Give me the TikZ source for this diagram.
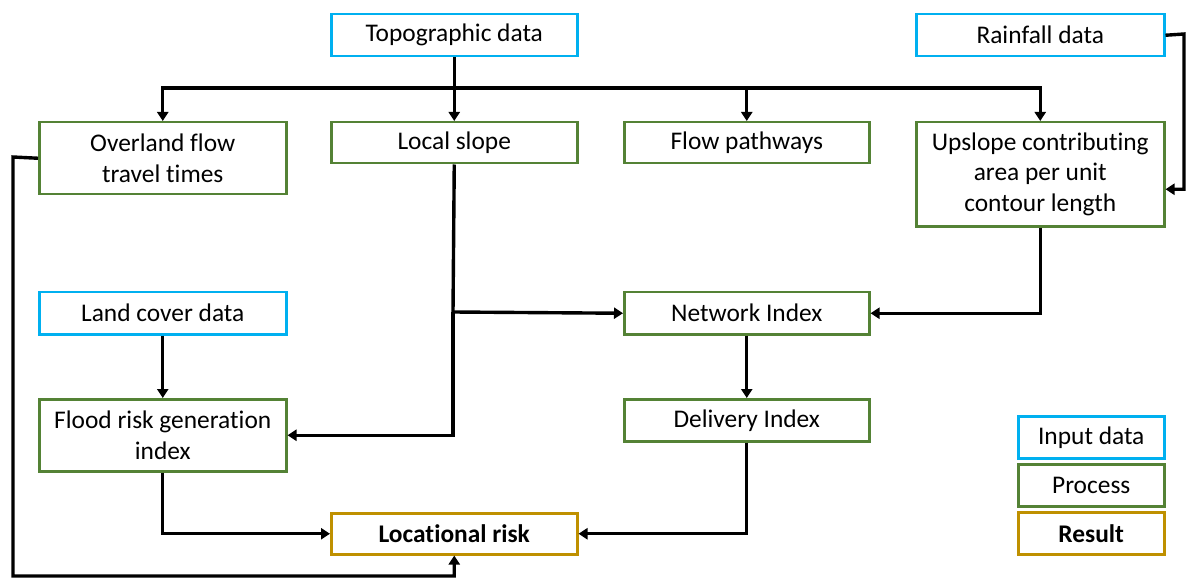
\documentclass[tikz,border=0pt]{standalone}
\usepackage{fontspec}
\setmainfont{Carlito}[Ligatures={NoCommon}]
\usetikzlibrary{arrows.meta}
\definecolor{inblue}{HTML}{00B0F0}
\definecolor{procgreen}{HTML}{548235}
\definecolor{resgold}{HTML}{BF9000}
\tikzset{
  box/.style={draw, line width=2.5bp, fill=white, anchor=north west, inner sep=0pt,
    align=center, font=\fontsize{25.5}{31}\selectfont},
  inputbox/.style={box, draw=inblue},
  procbox/.style={box, draw=procgreen},
  resbox/.style={box, draw=resgold, font=\fontsize{25.5}{31}\selectfont\bfseries},
  arr/.style={line width=3.4bp, -{Triangle[length=9bp,width=11bp]}},
  link/.style={line width=3.4bp},
}
\begin{document}
\begin{tikzpicture}[x=1bp, y=-1bp]
\useasboundingbox[fill=white] (0,0) rectangle (1187,579);

% input data
\node[inputbox, minimum width=246bp, minimum height=42bp] (topo) at (330,13) {Topographic data};
\node[inputbox, minimum width=248bp, minimum height=42bp] (rain) at (915,13) {Rainfall data};
\node[inputbox, minimum width=247bp, minimum height=42bp] (land) at (38,291) {Land cover data};

% processes
\node[procbox, minimum width=247bp, minimum height=72bp] (over) at (38,121) {Overland flow\\travel times};
\node[procbox, minimum width=246bp, minimum height=41bp] (slope) at (330,121) {Local slope};
\node[procbox, minimum width=245bp, minimum height=41bp] (flow) at (623,121) {Flow pathways};
\node[procbox, minimum width=248bp, minimum height=104bp] (up) at (915,121) {Upslope contributing\\area per unit\\contour length};
\node[procbox, minimum width=245bp, minimum height=42bp] (net) at (623,291) {Network Index};
\node[procbox, minimum width=247bp, minimum height=72bp] (flood) at (38,398) {Flood risk generation\\index};
\node[procbox, minimum width=245bp, minimum height=42bp] (deliv) at (623,398) {Delivery Index};

% result
\node[resbox, minimum width=246bp, minimum height=41bp] (loc) at (330,512) {Locational risk};

% key
\node[inputbox, minimum width=146bp, minimum height=42bp] (kin) at (1017,415) {Input data};
\node[procbox, minimum width=146bp, minimum height=42bp] (kproc) at (1017,463) {Process};
\node[resbox, minimum width=146bp, minimum height=42bp] (kres) at (1017,511) {Result};

% topographic data feeds the four derived layers
\coordinate (bus) at (453,88);
\draw[arr] (topo.south) -- (slope.north);
\draw[arr] (bus) -| (over.north);
\draw[arr] (bus) -| (flow.north);
\draw[arr] (bus) -| (up.north);

% rainfall into contributing area
\coordinate (rr) at (1184,34);
\draw[arr] (rain.east) -- (rr) |- ([yshift=-15bp]up.east);

% local slope branches to network index and flood risk
\coordinate (sj) at (453,312);
\draw[link] (slope.south) -- (sj);
\draw[arr] (sj) -- (net.west);
\draw[arr] (sj) |- (flood.east);

% contributing area into network index
\draw[arr] (up.south) |- (net.east);

% land cover into flood risk
\draw[arr] (land.south) -- (flood.north);

% network to delivery
\draw[arr] (net.south) -- (deliv.north);

% into locational risk
\draw[arr] (flood.south) |- (loc.west);
\draw[arr] (deliv.south) |- (loc.east);
\coordinate (ol) at (13,157);
\coordinate (ob) at (13,576);
\draw[arr] (over.west) -- (ol) -- (ob) -| (loc.south);
\end{tikzpicture}
\end{document}
